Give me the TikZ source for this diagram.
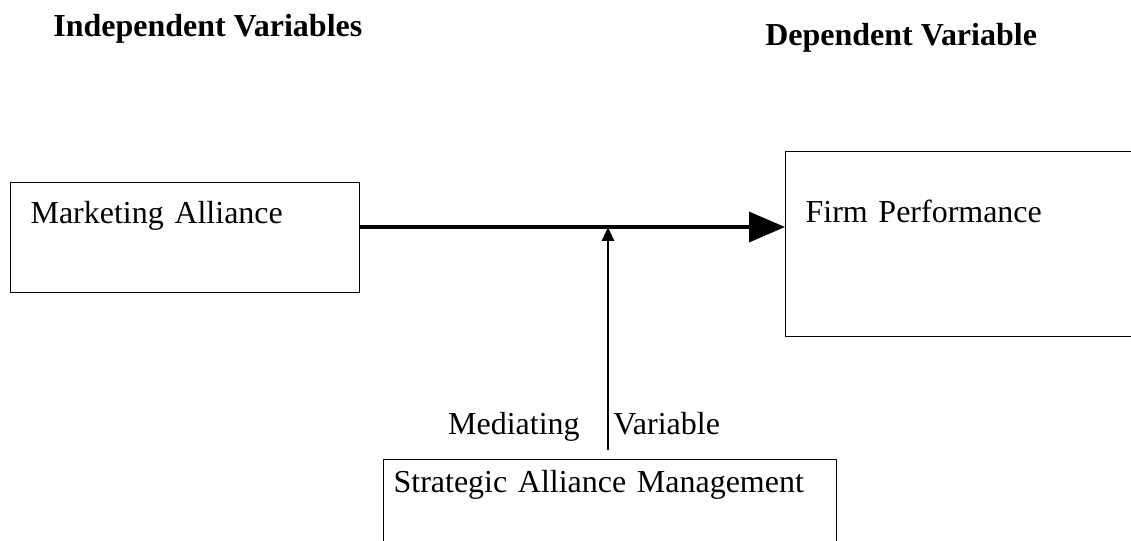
\documentclass[tikz,border=0pt]{standalone}
\usepackage{fontspec}
\setmainfont{Liberation Serif}
\usepackage{tikz}
\usetikzlibrary{arrows.meta}

\tikzset{
	varbox/.style={draw, line width=0.7pt, anchor=north west, align=left,
		inner ysep=0pt, font=\fontsize{18.2}{22}\selectfont},
	heading/.style={anchor=base west, inner sep=0pt,
		font=\fontsize{18.2}{22}\selectfont\bfseries},
	plain/.style={inner sep=0pt, font=\fontsize{18.2}{22}\selectfont},
	mainarrow/.style={line width=2pt, -{Triangle[length=0.72cm, width=0.6cm]}},
	medarrow/.style={line width=1.4pt, -{Triangle[length=0.28cm, width=0.24cm]}}
}

\begin{document}
\begin{tikzpicture}
		\useasboundingbox (0,0) rectangle (22.62,10.82);
		\clip (0,0) rectangle (22.62,10.82);

		% Headings.
		\node[heading] (indep) at (1.06,10.08) {Independent Variables};
		\node[heading] (dep) at (15.3,9.9) {Dependent Variable};

		% Variable boxes.
		\node[varbox, inner xsep=0.4cm, text width=6.18cm,
			text height=0.82cm, text depth=1.38cm]
			(market) at (0.2,7.18) {Marketing Alliance};
		\node[varbox, inner xsep=0.4cm, text width=6.5cm,
			text height=1.42cm, text depth=2.28cm]
			(firm) at (15.7,7.8) {Firm Performance};
		\node[varbox, inner xsep=0.2cm, text width=8.66cm,
			text height=0.66cm, text depth=1.34cm]
			(sam) at (7.66,1.64) {Strategic Alliance Management};

		% Arrows.
		\coordinate (join) at (12.16,6.28);
		\draw[mainarrow] (market.east |- join) -- (firm.west |- join);
		\draw[medarrow] ([yshift=0.18cm]sam.north -| join) -- (join);

		% Mediating label.
		\node[plain, anchor=base east] (medleft) at (11.6,2.12) {Mediating};
		\node[plain, anchor=base west] (medright) at (12.26,2.12) {Variable};
	\end{tikzpicture}
\end{document}
